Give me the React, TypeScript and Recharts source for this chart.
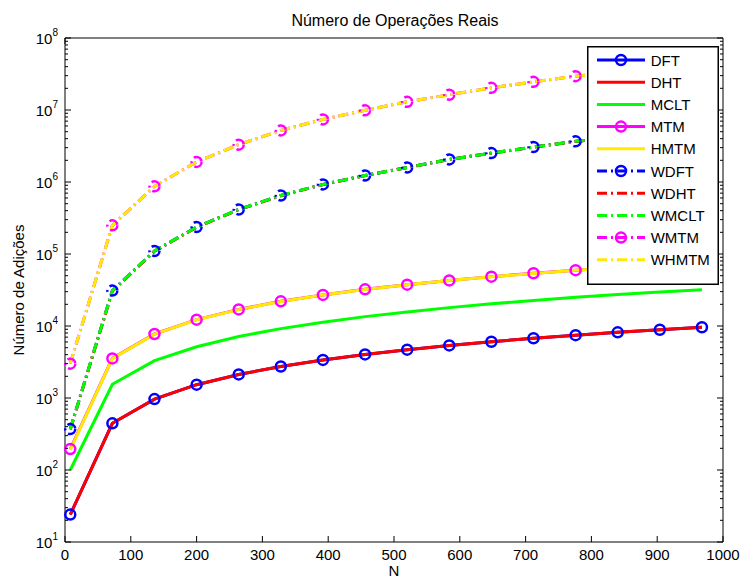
import React from 'react';
import { LineChart, Line, XAxis, YAxis, Label } from 'recharts';

// N values (sample sizes)
const nValues = [8, 72, 136, 200, 264, 328, 392, 456, 520, 584, 648, 712, 776, 840, 904, 968];

// additions counts
const dft = [24, 445, 965, 1530, 2125, 2740, 3380, 4030, 4690, 5370, 6050, 6750, 7450, 8160, 8880, 9600];
const dht = [24, 445, 965, 1530, 2125, 2740, 3380, 4030, 4690, 5370, 6050, 6750, 7450, 8160, 8880, 9600];
const mclt = [100, 1550, 3300, 5150, 7150, 9200, 11300, 13500, 15700, 18000, 20300, 22600, 25000, 27300, 29700, 32000];
const mtm = [195, 3550, 7750, 12250, 17000, 22000, 27000, 32300, 37500, 43000, 48500, 54000, 59600, 65300, 71000, 76800];
const hmtm = [190, 3520, 7700, 12200, 16900, 21900, 26900, 32100, 37300, 42800, 48300, 53800, 59400, 65000, 70700, 76500];
const wdft = [370, 31000, 110000, 237000, 415000, 650000, 925000, 1230000, 1590000, 2060000, 2520000, 3060000, 3670000, 4230000, 4900000, 5620000];
const wdht = [365, 30500, 109000, 235000, 412000, 645000, 920000, 1225000, 1585000, 2050000, 2510000, 3050000, 3660000, 4220000, 4890000, 5600000];
const wmclt = [370, 31000, 110000, 237000, 415000, 650000, 925000, 1230000, 1590000, 2060000, 2520000, 3060000, 3670000, 4230000, 4900000, 5620000];
const wmtm = [3000, 250000, 870000, 1900000, 3300000, 5200000, 7400000, 9900000, 13000000, 16300000, 20300000, 24600000, 29500000, 34000000, 40000000, 46000000];
const whmtm = [3000, 250000, 870000, 1900000, 3300000, 5200000, 7400000, 9900000, 13000000, 16300000, 20300000, 24600000, 29500000, 34000000, 40000000, 46000000];

const xTicks = [0, 100, 200, 300, 400, 500, 600, 700, 800, 900, 1000];
const yDecades = [10, 100, 1e3, 1e4, 1e5, 1e6, 1e7, 1e8];
const minorSteps = [2, 3, 4, 5, 6, 7, 8, 9];
const yTicks = [...yDecades, ...yDecades.slice(0, -1).flatMap((d) => minorSteps.map((m) => d * m))].sort((a, b) => a - b);

const FONT = '"Liberation Sans", Arial, Helvetica, sans-serif';
const DASHDOT = '10 4 2 4';

const series = [
  { key: 'dft', name: 'DFT', color: '#0000ff', dash: false, marker: true },
  { key: 'dht', name: 'DHT', color: '#ff0000', dash: false, marker: false },
  { key: 'mclt', name: 'MCLT', color: '#00ff00', dash: false, marker: false },
  { key: 'mtm', name: 'MTM', color: '#ff00ff', dash: false, marker: true },
  { key: 'hmtm', name: 'HMTM', color: '#ffea00', dash: false, marker: false },
  { key: 'wdft', name: 'WDFT', color: '#0000ff', dash: true, marker: true },
  { key: 'wdht', name: 'WDHT', color: '#ff0000', dash: true, marker: false },
  { key: 'wmclt', name: 'WMCLT', color: '#00ff00', dash: true, marker: false },
  { key: 'wmtm', name: 'WMTM', color: '#ff00ff', dash: true, marker: true },
  { key: 'whmtm', name: 'WHMTM', color: '#ffea00', dash: true, marker: false },
];

const rows = nValues.map((n, i) => ({
  n,
  dft: dft[i],
  dht: dht[i],
  mclt: mclt[i],
  mtm: mtm[i],
  hmtm: hmtm[i],
  wdft: wdft[i],
  wdht: wdht[i],
  wmclt: wmclt[i],
  wmtm: wmtm[i],
  whmtm: whmtm[i],
}));

const isMajor = (v: number) => Math.abs(Math.log10(v) - Math.round(Math.log10(v))) < 1e-9;

const XTick = (props: any) => {
  const { x, y, payload, side } = props;
  if (side === 'top') {
    return <line x1={x} y1={y} x2={x} y2={y + 6} stroke="#000" />;
  }
  return (
    <g>
      <line x1={x} y1={y} x2={x} y2={y - 6} stroke="#000" />
      <text x={x} y={y + 17.5} textAnchor="middle" fontSize={15} fontFamily={FONT} fill="#000">
        {payload.value}
      </text>
    </g>
  );
};

const YTick = (props: any) => {
  const { x, y, payload, side } = props;
  const v = payload.value;
  const major = isMajor(v);
  const len = major ? 6 : 3;
  if (side === 'right') {
    return <line x1={x} y1={y} x2={x - len} y2={y} stroke="#000" />;
  }
  return (
    <g>
      <line x1={x} y1={y} x2={x + len} y2={y} stroke="#000" />
      {major && (
        <text x={x - 7} y={y + 5.5} textAnchor="end" fontSize={15} fontFamily={FONT} fill="#000">
          10
          <tspan dy={-8} fontSize={10}>
            {Math.round(Math.log10(v))}
          </tspan>
        </text>
      )}
    </g>
  );
};

const ChartLegend = () => (
  <svg style={{ position: 'absolute', left: 587, top: 46 }} width={132} height={239}>
    <rect x={0.75} y={0.75} width={130.5} height={237.5} fill="#fff" stroke="#000" strokeWidth={1.5} />
    {series.map((s, i) => {
      const cy = 14 + i * 22.2;
      return (
        <g key={s.key}>
          <line
            x1={10}
            y1={cy}
            x2={58}
            y2={cy}
            stroke={s.color}
            strokeWidth={3}
            strokeDasharray={s.dash ? DASHDOT : undefined}
          />
          {s.marker && <circle cx={34} cy={cy} r={5} fill="none" stroke={s.color} strokeWidth={2.5} />}
          <text x={63.7} y={cy + 5.5} fontSize={15} fontFamily={FONT} fill="#000">
            {s.name}
          </text>
        </g>
      );
    })}
  </svg>
);

export default function App() {
  return (
    <div style={{ position: 'absolute', left: 0, top: 0, width: 742, height: 580, background: '#fff' }}>
      <LineChart width={742} height={580} data={rows} margin={{ top: 0, right: 0, bottom: 0, left: 0 }}>
        <XAxis
          xAxisId="b"
          dataKey="n"
          type="number"
          domain={[0, 1000]}
          ticks={xTicks}
          interval={0}
          height={38}
          tickSize={0}
          tickMargin={0}
          tickLine={false}
          axisLine={{ stroke: '#000' }}
          tick={(p: any) => <XTick {...p} side="bottom" />}
        >
          <Label
            content={() => (
              <text x={394} y={576} textAnchor="middle" fontSize={15} fontFamily={FONT} fill="#000">
                N
              </text>
            )}
          />
        </XAxis>
        <XAxis
          xAxisId="t"
          orientation="top"
          type="number"
          domain={[0, 1000]}
          ticks={xTicks}
          interval={0}
          height={38}
          tickSize={0}
          tickMargin={0}
          tickLine={false}
          axisLine={{ stroke: '#000' }}
          tick={(p: any) => <XTick {...p} side="top" />}
        >
          <Label
            content={() => (
              <text x={395} y={26} textAnchor="middle" fontSize={16} fontFamily={FONT} fill="#000">
                Número de Operações Reais
              </text>
            )}
          />
        </XAxis>
        <YAxis
          yAxisId="l"
          type="number"
          scale="log"
          domain={[10, 1e8]}
          allowDataOverflow
          ticks={yTicks}
          interval={0}
          width={65}
          tickSize={0}
          tickMargin={0}
          tickLine={false}
          axisLine={{ stroke: '#000' }}
          tick={(p: any) => <YTick {...p} side="left" />}
        >
          <Label
            content={() => (
              <text
                x={24}
                y={290}
                textAnchor="middle"
                fontSize={15}
                fontFamily={FONT}
                fill="#000"
                transform="rotate(-90 24 290)"
              >
                Número de Adições
              </text>
            )}
          />
        </YAxis>
        <YAxis
          yAxisId="r"
          orientation="right"
          type="number"
          scale="log"
          domain={[10, 1e8]}
          allowDataOverflow
          ticks={yTicks}
          interval={0}
          width={19}
          tickSize={0}
          tickMargin={0}
          tickLine={false}
          axisLine={{ stroke: '#000' }}
          tick={(p: any) => <YTick {...p} side="right" />}
        />
        {series.map((s) => (
          <Line
            key={s.key}
            xAxisId="b"
            yAxisId="l"
            type="linear"
            dataKey={s.key}
            name={s.name}
            stroke={s.color}
            strokeWidth={3}
            strokeDasharray={s.dash ? DASHDOT : undefined}
            dot={s.marker ? { r: 5, fill: 'none', stroke: s.color, strokeWidth: 2.5 } : false}
            activeDot={false}
            isAnimationActive={false}
          />
        ))}
      </LineChart>
      <ChartLegend />
    </div>
  );
}
